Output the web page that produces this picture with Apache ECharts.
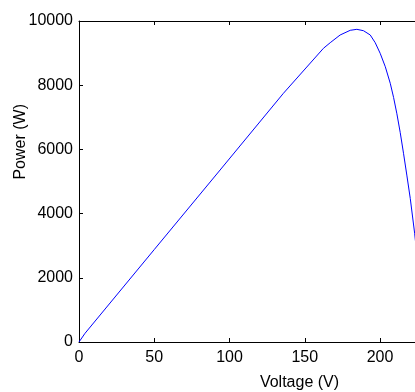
<!DOCTYPE html>
<html><head><meta charset="utf-8">
<script src="https://cdn.jsdelivr.net/npm/echarts@6/dist/echarts.min.js"></script>
<style>html,body{margin:0;padding:0;background:#fff;}#c{width:415px;height:392px;}</style>
</head><body><div id="c"></div>
<script>
const voltage = [0, 4, 50, 93.75, 135.8, 162.4, 166.9, 173.5, 180.2, 184.6, 189, 193.5, 196.8, 200.1, 203.5, 206.8, 209, 211.2, 213.4, 215.6, 217.8, 220.1, 223, 225, 227, 229];
const power = [0, 271, 2880, 5358, 7747, 9149, 9324, 9564, 9710, 9741, 9698, 9564, 9324, 8993, 8576, 8059, 7620, 7110, 6530, 5880, 5200, 4470, 3386, 2500, 1400, 0];
const xTicks = [0, 50, 100, 150, 200, 250];
const yTicks = [0, 2000, 4000, 6000, 8000, 10000];
const xTitle = 'Voltage (V)';
const yTitle = 'Power (W)';

const FONT = '"Liberation Sans Narrow", "Arial Narrow", "Liberation Sans", Arial, sans-serif';
const chart = echarts.init(document.getElementById('c'), null, {renderer: 'canvas'});
const pts = voltage.map((v, i) => [v, power[i]]);
const axLine = {show: true, lineStyle: {color: '#000', width: 1}};
chart.setOption({
  animation: false,
  backgroundColor: '#fff',
  grid: {left: 79, top: 21, height: 321, width: 441, outerBoundsMode: 'none', containLabel: false},
  xAxis: [{
    type: 'value', min: 0, max: 293, interval: 50, position: 'bottom',
    axisLine: axLine, axisTick: {show: true, inside: true, length: 4, lineStyle: {color: '#000'}},
    splitLine: {show: false},
    axisLabel: {color: '#000', fontSize: 16, fontFamily: FONT, margin: 8, showMaxLabel: false,
      formatter: v => xTicks.includes(v) ? String(v) : ''},
    name: xTitle, nameLocation: 'middle', nameGap: 33,
    nameTextStyle: {color: '#000', fontSize: 16, fontFamily: FONT}
  }, {
    type: 'value', min: 0, max: 293, interval: 50, position: 'top',
    axisLine: axLine, axisTick: {show: true, inside: true, length: 4, lineStyle: {color: '#000'}},
    splitLine: {show: false}, axisLabel: {show: false}
  }],
  yAxis: [{
    type: 'value', min: 0, max: 10000, interval: 2000,
    axisLine: axLine, axisTick: {show: true, inside: true, length: 4, lineStyle: {color: '#000'}},
    splitLine: {show: false},
    axisLabel: {color: '#000', fontSize: 16, fontFamily: FONT, margin: 6,
      formatter: v => yTicks.includes(v) ? String(v) : ''}
  }],
  graphic: [{
    type: 'text', left: 13, top: 104, rotation: Math.PI / 2,
    style: {text: yTitle, fill: '#000', font: '16px ' + FONT}
  }],
  series: [{
    type: 'line', data: pts, showSymbol: false, smooth: false,
    lineStyle: {color: '#0000ff', width: 1}, clip: true
  }]
});
</script></body></html>
